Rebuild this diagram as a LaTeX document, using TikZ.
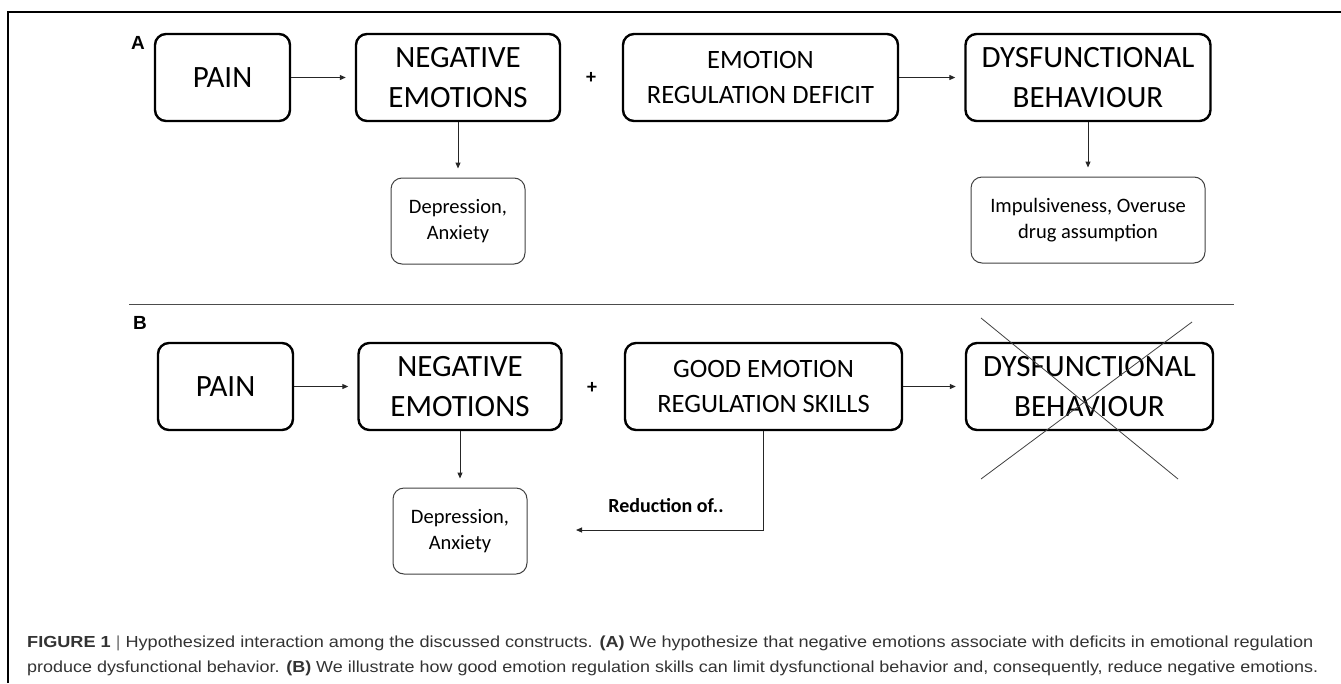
\documentclass[tikz,border=0pt]{standalone}
\usepackage{fontspec}
\usepackage{graphicx}
\setmainfont{Carlito}
\newfontfamily\capfont{Liberation Sans}
\usetikzlibrary{arrows.meta}

\begin{document}
\begin{tikzpicture}[x=1pt,y=-1pt,
  bigbox/.style={draw=black, line width=2.4pt, rounded corners=11pt, inner sep=0pt,
    align=center, font=\fontsize{31}{40}\selectfont, minimum height=87pt},
  midbox/.style={bigbox, font=\fontsize{26.5}{35}\selectfont},
  smallbox/.style={draw=black!75, line width=1pt, rounded corners=11pt, inner sep=0pt,
    align=center, font=\fontsize{20.5}{26}\selectfont, minimum height=86pt},
  conn/.style={draw=black!85, line width=1pt, -{Triangle[length=6pt,width=5pt]}, shorten >=9pt},
  plus/.style={font=\bfseries\fontsize{20}{20}\selectfont, inner sep=0pt},
  panel/.style={font=\capfont\bfseries\fontsize{19}{19}\selectfont, inner sep=0pt},
  capline/.style={anchor=west, inner sep=0pt, text=black!80, font=\capfont\fontsize{16}{19}\selectfont},
]
\useasboundingbox (0,0) rectangle (1341,683);

% outer frame (open to the right and bottom)
\draw[line width=1.2pt] (8,683) -- (8,12) -- (1341,12);

% ---------- panel A ----------
\node[panel] (labA) at (138,43) {A};
\node[bigbox, minimum width=135pt] (painA) at (222.5,77.5) {PAIN};
\node[bigbox, minimum width=204pt] (negA) at (458,77.5) {NEGATIVE\\EMOTIONS};
\node[plus] (plusA) at (591,78) {+};
\node[midbox, minimum width=275pt] (regA) at (760.5,77.5) {EMOTION\\REGULATION DEFICIT};
\node[bigbox, minimum width=245pt] (dysA) at (1088,77.5) {DYSFUNCTIONAL\\BEHAVIOUR};
\node[smallbox, minimum width=134pt] (depA) at (458,221) {Depression,\\Anxiety};
\node[smallbox, minimum width=234pt] (impA) at (1088,220) {Impulsiveness, Overuse\\drug assumption};

\draw[conn] (painA) -- (negA);
\draw[conn] (regA) -- (dysA);
\draw[conn] (negA) -- (depA);
\draw[conn] (dysA) -- (impA);

% separator between the panels
\draw[draw=black!70, line width=1pt] (129,304) -- (1234,304);

% ---------- panel B ----------
\node[panel] (labB) at (140,323) {B};
\node[bigbox, minimum width=135pt] (painB) at (225.5,386.5) {PAIN};
\node[bigbox, minimum width=203pt] (negB) at (460,386.5) {NEGATIVE\\EMOTIONS};
\node[plus] (plusB) at (592,388) {+};
\node[midbox, minimum width=277pt] (goodB) at (763.5,386.5) {GOOD EMOTION\\REGULATION SKILLS};
\node[bigbox, minimum width=247pt] (dysB) at (1089.5,386.5) {DYSFUNCTIONAL\\BEHAVIOUR};
\node[smallbox, minimum width=134pt] (depB) at (460,531) {Depression,\\Anxiety};

\draw[conn] (painB) -- (negB);
\draw[conn] (goodB) -- (dysB);
\draw[conn] (negB) -- (depB);

% struck-out behaviour
\draw[draw=black!75, line width=0.8pt] (981,318) -- (1178,479);
\draw[draw=black!75, line width=0.8pt] (1192,322) -- (981,479);

% feedback from regulation skills
\coordinate (redend) at (576,530);
\draw[draw=black!85, line width=1pt, -{Triangle[length=6pt,width=5pt]}] (goodB.south) |- (redend);
\node[font=\bfseries\fontsize{20}{20}\selectfont, inner sep=0pt] (redlbl) at (666,506) {Reduction of..};

% ---------- caption ----------
\node[capline] (cap1) at (27,643) {\resizebox{1286pt}{\height}{\textbf{FIGURE 1} {\color{black!55}|} Hypothesized interaction among the discussed constructs. \textbf{(A)} We hypothesize that negative emotions associate with deficits in emotional regulation}};
\node[capline] (cap2) at (27,668) {\resizebox{1291pt}{\height}{produce dysfunctional behavior. \textbf{(B)} We illustrate how good emotion regulation skills can limit dysfunctional behavior and, consequently, reduce negative emotions.}};
\end{tikzpicture}
\end{document}
